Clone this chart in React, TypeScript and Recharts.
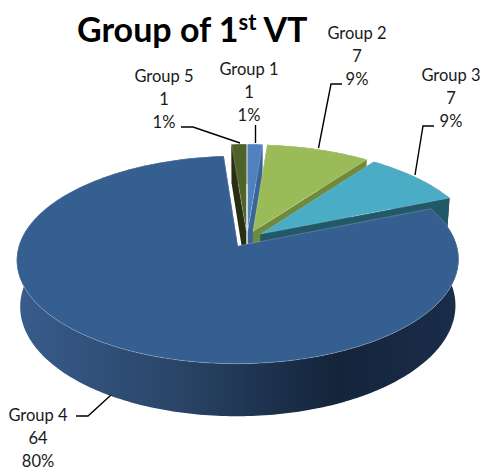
import React from "react";
import { PieChart, Pie } from "recharts";

// Group 5 comes first so that Group 4 is painted last, over the walls of its neighbours.
const categories = ["Group 5", "Group 1", "Group 2", "Group 3", "Group 4"];
const values = [1, 1, 7, 7, 64];
const topColors = ["#4f6228", "#4f81bd", "#9bbb59", "#4bacc6", "#365f91"];
const wallColors = ["#262f14", "#3a659b", "#6f8a3b", "#215968", "url(#g4wall)"];

// label layout: centre x, first line y, and leader polyline
const labelLayout = [
  { x: 164, y: 82, line: [[181, 127], [193, 127], [240, 143]] },
  { x: 249, y: 75, line: [[255.5, 125], [255.5, 143]] },
  { x: 357, y: 39, line: [[342, 84], [331, 84], [318.5, 148]] },
  { x: 451, y: 81, line: [[434, 126], [423, 126], [415, 175]] },
  { x: 38, y: 421, line: [[76, 416], [88, 416], [111, 395]] },
];

const FONT = "Lato, 'Open Sans', sans-serif";
const EXPLODE = 0.08;
const PERSP = 0.132;
const FLAT = 0.462;
const DEPTH = 0.208;
const SHRINK = 0.985;

const rad = (d: number) => (d * Math.PI) / 180;

function Slice3D(props: any) {
  const { cx, cy, outerRadius: R, startAngle, endAngle, payload } = props;
  const i = categories.indexOf(payload.name);
  const a0 = 90 - startAngle;
  const a1 = 90 - endAngle;
  const mid = (a0 + a1) / 2;
  const ox = Math.sin(rad(mid)) * EXPLODE;
  const oy = Math.cos(rad(mid)) * EXPLODE;
  const proj = (u: number, v: number, bottom: boolean) => {
    const U = u + ox;
    const V = v + oy;
    const w = 1 + PERSP * V;
    const k = bottom ? SHRINK : 1;
    const x = cx + (R * U * k) / w;
    const y = cy - (R * FLAT * V) / w + (bottom ? (R * DEPTH) / w : 0);
    return `${x.toFixed(2)} ${y.toFixed(2)}`;
  };
  const rim: [number, number][] = [];
  const n = Math.max(4, Math.ceil(a1 - a0));
  for (let k = 0; k <= n; k++) {
    const t = rad(a0 + ((a1 - a0) * k) / n);
    rim.push([Math.sin(t), Math.cos(t)]);
  }
  const topPath =
    `M${proj(0, 0, false)} ` + rim.map((p) => `L${proj(p[0], p[1], false)}`).join(" ") + " Z";
  const wallPath =
    `M${proj(rim[0][0], rim[0][1], false)} ` +
    rim.map((p) => `L${proj(p[0], p[1], false)}`).join(" ") +
    " " +
    [...rim].reverse().map((p) => `L${proj(p[0], p[1], true)}`).join(" ") +
    " Z";
  const edge = (p: [number, number]) =>
    `M${proj(0, 0, false)} L${proj(p[0], p[1], false)} L${proj(p[0], p[1], true)} L${proj(0, 0, true)} Z`;
  const solidWall = wallColors[i].startsWith("url") ? "#2a4568" : wallColors[i];
  return (
    <g>
      <defs>
        <linearGradient id="g4wall" x1="0" y1="0" x2="1" y2="0">
          <stop offset="0" stopColor="#385c8c" />
          <stop offset="0.35" stopColor="#2a4669" />
          <stop offset="0.72" stopColor="#14243b" />
          <stop offset="1" stopColor="#1a2d49" />
        </linearGradient>
      </defs>
      <path d={edge(rim[0])} fill={solidWall} />
      <path d={edge(rim[rim.length - 1])} fill={solidWall} />
      <path d={wallPath} fill={wallColors[i]} />
      <path d={topPath} fill={topColors[i]} stroke="#ffffff" strokeOpacity={0.35} strokeWidth={0.6} />
    </g>
  );
}

function renderLabel(props: any) {
  const i = props.index as number;
  const l = labelLayout[i];
  const lines = [categories[i], String(values[i]), `${Math.round(props.percent * 100)}%`];
  return (
    <g key={i}>
      <polyline
        points={l.line.map((p) => p.join(",")).join(" ")}
        fill="none"
        stroke="#000000"
        strokeWidth={1.4}
      />
      {lines.map((t, k) => (
        <text
          key={k}
          x={l.x}
          y={l.y + k * 23}
          textAnchor="middle"
          fontFamily={FONT}
          fontSize={16.5}
          fill="#1a1a1a"
        >
          {t}
        </text>
      ))}
    </g>
  );
}

const tableData = categories.map((name, i) => ({ name, value: values[i] }));
const total = values.reduce((a, b) => a + b, 0);
const firstSweep = (360 * values[0]) / total;

export default function App() {
  return (
    <div style={{ width: 483, height: 470, background: "#fff" }}>
      <style>{"body{margin:0}"}</style>
      <PieChart width={483} height={470} margin={{ top: 0, right: 0, bottom: 0, left: 0 }}>
        <text x={77} y={42} fontFamily={FONT} fontWeight={700} fontSize={34} fill="#000000">
          Group of 1
          <tspan fontSize={22} dy={-12}>st</tspan>
          <tspan dy={12}> VT</tspan>
        </text>
        <Pie
          data={tableData}
          dataKey="value"
          nameKey="name"
          cx={247}
          cy={239}
          outerRadius={217}
          startAngle={90 + firstSweep}
          endAngle={-270 + firstSweep}
          stroke="none"
          isAnimationActive={false}
          shape={Slice3D}
          label={renderLabel}
          labelLine={false}
        />
      </PieChart>
    </div>
  );
}
